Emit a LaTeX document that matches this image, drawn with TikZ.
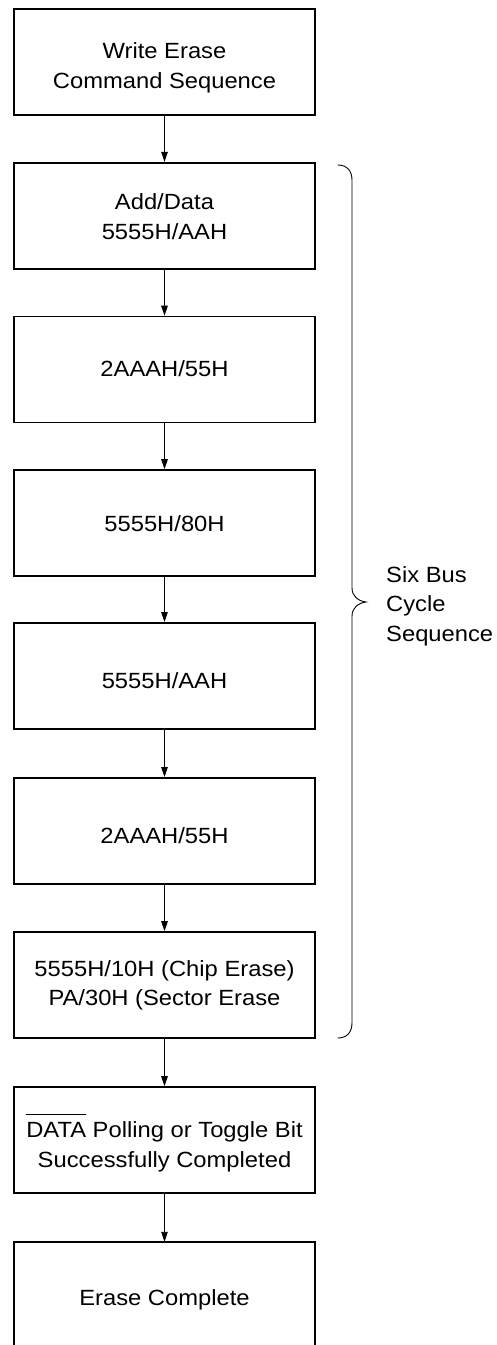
\documentclass[tikz,border=0pt]{standalone}
\usepackage{fontspec}
\setmainfont{Liberation Sans}[FakeStretch=1.08]
\usetikzlibrary{arrows.meta}
\newcommand\ovbar[1]{\leavevmode\vbox{\hrule height 0.8pt\kern 7.5pt\hbox{#1}}}
\newcommand\st[1]{\rule{0pt}{#1pt}}
\newcommand\sd{\rule[-6pt]{0pt}{6pt}}
\begin{document}
\begin{tikzpicture}[x=1pt,y=-1pt,
  txt/.style={font=\fontsize{22}{29.5}\selectfont},
  box/.style={txt,draw,line width=1.6pt,minimum width=301pt,minimum height=106pt,inner sep=0pt,align=center},
  openbox/.style={txt,minimum width=301pt,minimum height=106pt,inner sep=0pt,align=center},
  flow/.style={line width=0.9pt,-{Triangle[length=10pt,width=6.5pt]}},
  bracel/.style={line width=0.9pt,line cap=round}]
\useasboundingbox (0,0) rectangle (497,1345);
\node[box] (b1) at (164.5,62) {\st{28.75}Write Erase\\Command Sequence\sd};
\node[box] (b2) at (164.5,215.7) {\st{23.35}Add/Data\\5555H/AAH\sd};
\node[box] (b3) at (164.5,369.5) {\st{19.75}\sd 2AAAH/55H};
\node[box] (b4) at (164.5,523) {\st{23.75}\sd 5555H/80H};
\node[box] (b5) at (164.5,675.8) {\st{31.75}\sd 5555H/AAH};
\node[box] (b6) at (164.5,830.8) {\st{31.75}\sd 2AAAH/55H};
\node[box] (b7) at (164.5,985) {\st{18.35}5555H/10H (Chip Erase)\\PA/30H (Sector Erase\sd};
\node[box] (b8) at (164.5,1140) {\st{31.05}\ovbar{DATA} Polling or Toggle Bit\\Successfully Completed\sd};
\node[openbox] (b9) at (164.5,1295) {\st{26.75}\sd Erase Complete};
\draw[line width=1.6pt] (b9.south west) -- (b9.north west) -- (b9.north east) -- (b9.south east);
\foreach \a/\b in {b1/b2,b2/b3,b3/b4,b4/b5,b5/b6,b6/b7,b7/b8,b8/b9}
  \draw[flow] (\a.south) -- (\b.north);
% brace
\draw[bracel] (338,165) .. controls (347,165) and (352,171) .. (352,180)
  -- (352,588) .. controls (352,596) and (358,601) .. (366,602)
  .. controls (358,603) and (352,608) .. (352,616)
  -- (352,1023) .. controls (352,1032) and (347,1038) .. (338,1038);
\node[txt,align=left,anchor=west,inner sep=0pt] (lbl) at (386,606) {Six Bus\\Cycle\\Sequence};
\end{tikzpicture}
\end{document}
